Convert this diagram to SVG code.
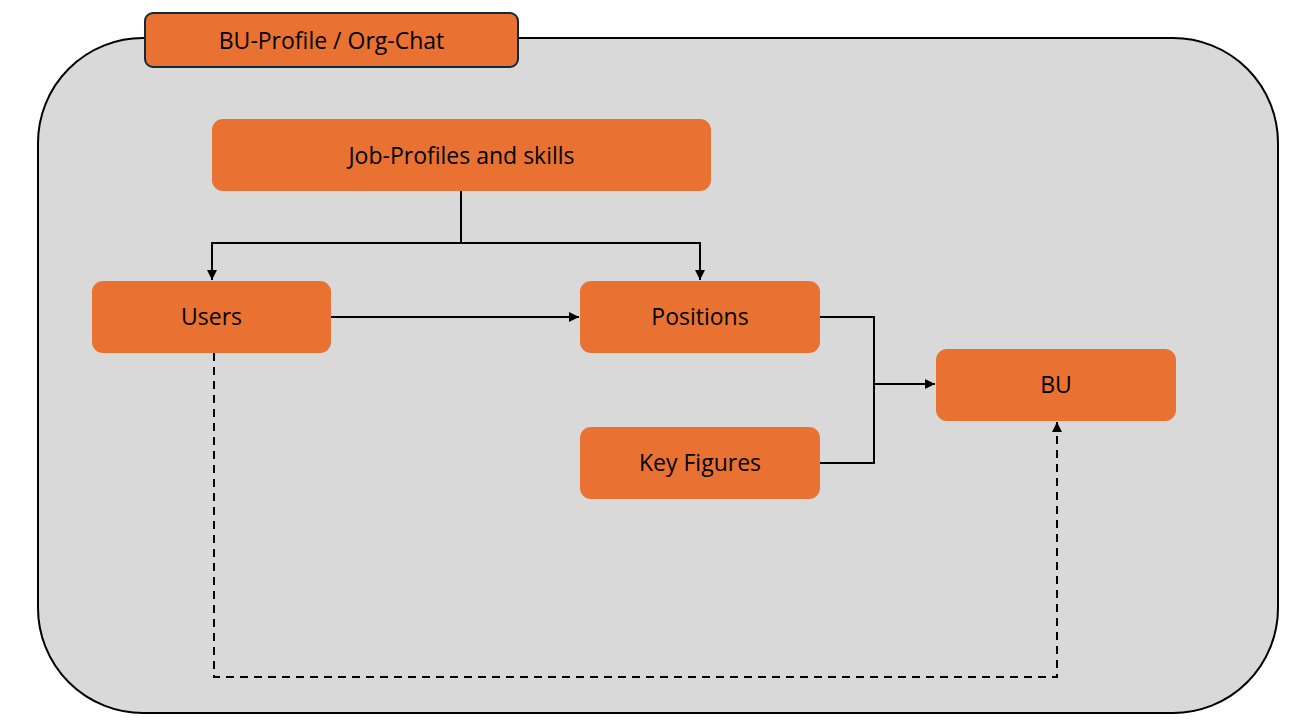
<svg xmlns="http://www.w3.org/2000/svg" width="1300" height="724" viewBox="0 0 1300 724">
<style>
.node{fill:#E97132;}
.lbl{font-family:"Open Sans","Liberation Sans",sans-serif;font-size:23px;fill:#000;text-anchor:middle;dominant-baseline:central;}
.conn{fill:none;stroke:#000;stroke-width:2;}
.dash{stroke-dasharray:8 6;}
</style>
<defs>
<marker id="arr" viewBox="0 0 10 10" refX="10" refY="5" markerWidth="5" markerHeight="5" orient="auto" markerUnits="strokeWidth">
<path d="M0,0 L10,5 L0,10 z" fill="#000"/>
</marker>
</defs>
<rect width="1300" height="724" fill="#fff"/>
<g id="container">
<rect x="38" y="38" width="1240" height="675" rx="105" ry="105" fill="#D9D9D9" stroke="#000" stroke-width="2"/>
</g>
<g id="title">
<rect x="145" y="13" width="373" height="54" rx="8" ry="8" class="node" stroke="#0F2A3A" stroke-width="2"/>
<text x="331.5" y="40" class="lbl">BU-Profile / Org-Chat</text>
</g>
<g id="connectors">
<path class="conn" d="M461,191 V243"/>
<path class="conn" d="M461,243 H212 V280" marker-end="url(#arr)"/>
<path class="conn" d="M461,243 H700 V280" marker-end="url(#arr)"/>
<path class="conn" d="M331,317 H579" marker-end="url(#arr)"/>
<path class="conn" d="M820,317 H874 V463 H820"/>
<path class="conn" d="M874,384 H935" marker-end="url(#arr)"/>
<path class="conn dash" d="M214,353 V677 H1057 V422" marker-end="url(#arr)"/>
</g>
<g id="job-profiles">
<rect x="212" y="119" width="499" height="72" rx="11" class="node"/>
<text x="461.5" y="155" class="lbl">Job-Profiles and skills</text>
</g>
<g id="users">
<rect x="92" y="281" width="239" height="72" rx="11" class="node"/>
<text x="211.5" y="316" class="lbl">Users</text>
</g>
<g id="positions">
<rect x="580" y="281" width="240" height="72" rx="11" class="node"/>
<text x="700" y="316" class="lbl">Positions</text>
</g>
<g id="key-figures">
<rect x="580" y="427" width="240" height="72" rx="11" class="node"/>
<text x="700" y="462" class="lbl">Key Figures</text>
</g>
<g id="bu">
<rect x="936" y="349" width="240" height="72" rx="11" class="node"/>
<text x="1056" y="384" class="lbl">BU</text>
</g>
</svg>
